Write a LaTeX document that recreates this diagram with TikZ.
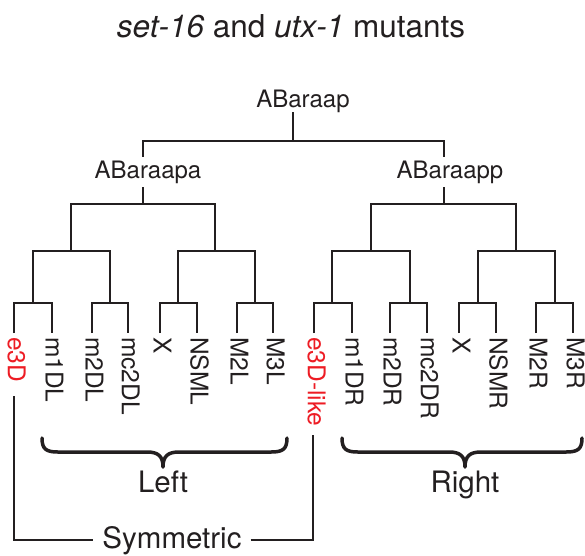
\documentclass[tikz,border=0pt]{standalone}
\usepackage{fontspec}
\setmainfont{TeX Gyre Heros}
\definecolor{ink}{HTML}{231F20}
\definecolor{redlab}{HTML}{ED1C24}
\begin{document}
\begin{tikzpicture}[x=1pt,y=-1pt,
  edge/.style={draw=ink, line width=2.8pt},
  symline/.style={draw=ink, line width=2.1pt},
  inner/.style={font=\fontsize{24}{28}\selectfont, text=ink, anchor=base, inner xsep=1pt},
  leaf/.style={font=\fontsize{24.5}{28}\selectfont, text=ink, rotate=-90, anchor=west, inner sep=0pt},
  big/.style={font=\fontsize{29.5}{34}\selectfont, text=ink, anchor=base},
  bracestyle/.style={draw=ink, line width=3.5pt, line cap=round, line join=round}]
\useasboundingbox (0,0) rectangle (585,555);

% title
\node[font=\fontsize{31.5}{36}\selectfont, text=ink, anchor=base] (title) at (291,37) {\textit{set-16} and \textit{utx-1} mutants};

% internal labels
\node[inner, inner ysep=0pt] (root) at (303,107) {ABaraap};
\node[inner, inner ysep=3.5pt] (nA) at (148,178) {ABaraapa};
\node[inner, inner ysep=3.5pt] (nB) at (450,178) {ABaraapp};

% leaves
\foreach \i/\x/\t/\c in {1/14/e3D/redlab, 2/52/m1DL/ink, 3/92/m2DL/ink, 4/128/mc2DL/ink,
  5/160/X/ink, 6/197/NSML/ink, 7/237/M2L/ink, 8/273/M3L/ink,
  9/314/e3D-like/redlab, 10/352/m1DR/ink, 11/390/m2DR/ink, 12/427/mc2DR/ink,
  13/459/X/ink, 14/496/NSMR/ink, 15/536/M2R/ink, 16/573/M3R/ink}{
  \coordinate (t\i) at (\x,333);
  \node[leaf, text=\c] (L\i) at (\x+2.5,337) {\t};
}

% junction coordinates
\foreach \i/\x in {1/33, 2/110, 3/178, 4/255, 5/332, 6/410, 7/478, 8/555}{
  \coordinate (p\i) at (\x,303);
}
\foreach \i/\x in {1/71, 2/215, 3/371, 4/516}{
  \coordinate (q\i) at (\x,251);
}
\coordinate (r1) at (143,204);
\coordinate (r2) at (444,204);
\coordinate (top) at (293,141);

% leaf pairs
\draw[edge] (t1) |- (p1) -| (t2);
\draw[edge] (t3) |- (p2) -| (t4);
\draw[edge] (t5) |- (p3) -| (t6);
\draw[edge] (t7) |- (p4) -| (t8);
\draw[edge] (t9) |- (p5) -| (t10);
\draw[edge] (t11) |- (p6) -| (t12);
\draw[edge] (t13) |- (p7) -| (t14);
\draw[edge] (t15) |- (p8) -| (t16);
% second level
\draw[edge] (p1) |- (q1) -| (p2);
\draw[edge] (p3) |- (q2) -| (p4);
\draw[edge] (p5) |- (q3) -| (p6);
\draw[edge] (p7) |- (q4) -| (p8);
% third level
\draw[edge] (q1) |- (r1) -| (q2);
\draw[edge] (q3) |- (r2) -| (q4);
\draw[edge] (r1) -- (r1 |- nA.south);
\draw[edge] (r2) -- (r2 |- nB.south);
% top
\draw[edge] (r1 |- nA.north) |- (top) -| (r2 |- nB.north);
\draw[edge] (top) -- (top |- root.south);

% braces
\draw[bracestyle] (42,438) .. controls (42,449) and (46,452) .. (58,452) -- (147,452)
  .. controls (158,452) and (163,456) .. (163,467)
  .. controls (163,456) and (168,452) .. (179,452) -- (271,452)
  .. controls (283,452) and (287,449) .. (287,438);
\draw[bracestyle] (342,438) .. controls (342,449) and (346,452) .. (358,452) -- (449,452)
  .. controls (460,452) and (465,456) .. (465,467)
  .. controls (465,456) and (470,452) .. (481,452) -- (566,452)
  .. controls (578,452) and (582,449) .. (582,438);
\node[big] (left) at (163,492) {Left};
\node[big] (right) at (465,492) {Right};

% symmetric
\coordinate (s1) at (14,396);
\coordinate (s2) at (313,435);
\node[big, inner xsep=9pt] (sym) at (172,548) {Symmetric};
\draw[symline] (s1) |- (sym.west);
\draw[symline] (sym.east) -| (s2);
\end{tikzpicture}
\end{document}
